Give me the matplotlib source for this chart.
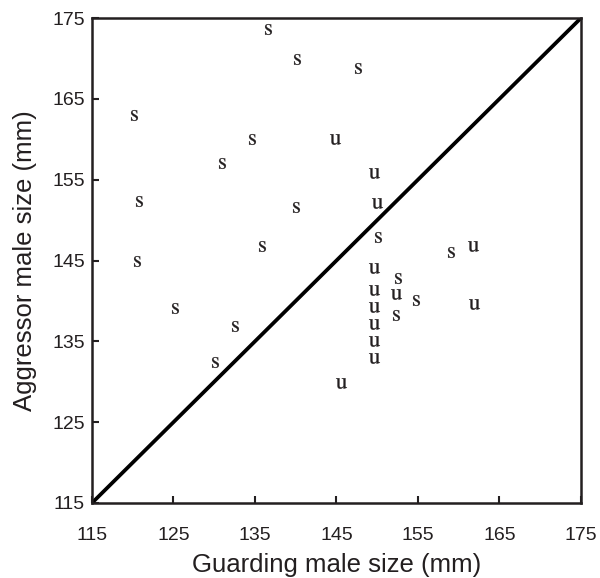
import numpy as np
import matplotlib
matplotlib.use("Agg")
import matplotlib.pyplot as plt

plt.rcParams['font.family'] = ['Liberation Sans', 'DejaVu Sans']
plt.rcParams['mathtext.fontset'] = 'stix'

# guarding vs aggressor male size (mm); s = successful, u = unsuccessful
s_guard = [136.6, 140.1, 120.2, 134.6, 131.0, 120.8, 140.0, 147.7, 135.8,
           120.5, 125.2, 132.5, 130.1, 150.1, 159.0, 152.5, 152.3, 154.8]
s_aggr = [173.7, 169.9, 163.0, 160.0, 157.1, 152.4, 151.6, 168.8, 146.8,
          145.0, 139.1, 136.9, 132.5, 147.9, 146.0, 142.8, 138.3, 140.1]
u_guard = [144.8, 149.6, 150.0, 161.7, 149.6, 149.6, 149.6, 149.6, 149.6,
           149.6, 152.3, 161.9, 145.5]
u_aggr = [160.0, 155.8, 152.1, 146.8, 144.1, 141.4, 139.3, 137.1, 135.0,
          132.9, 140.8, 139.6, 129.9]

ticks = [115, 125, 135, 145, 155, 165, 175]

fig = plt.figure(figsize=(6.0, 5.78), dpi=100)
ax = fig.add_axes([0.1533, 0.1298, 0.815, 0.839])

ax.plot(ticks, ticks, color='black', lw=2.7, solid_capstyle='butt', zorder=2)
ax.plot(s_guard, s_aggr, ls='none', marker=r'$\mathrm{s}$', ms=7.8,
        mew=0.2, color='#231f20', zorder=3)
ax.plot(u_guard, u_aggr, ls='none', marker=r'$\mathrm{u}$', ms=7.8,
        mew=0.2, color='#231f20', zorder=3)

ax.set_xlim(115, 175)
ax.set_ylim(115, 175)
ax.set_xticks(ticks)
ax.set_yticks(ticks)
ax.tick_params(direction='in', length=5, width=1.5, labelsize=14,
               colors='#231f20')
ax.tick_params(axis='x', pad=17)
ax.tick_params(axis='y', pad=5)
for sp in ax.spines.values():
    sp.set_linewidth(1.8)
    sp.set_color('#231f20')

ax.set_xlabel('Guarding male size (mm)', fontsize=18.5, color='#231f20')
ax.set_ylabel('Aggressor male size (mm)', fontsize=18.5, color='#231f20')
ax.xaxis.set_label_coords(0.5, -0.103)
ax.yaxis.set_label_coords(-0.112, 0.5)

fig.savefig('out.png', dpi=100)
